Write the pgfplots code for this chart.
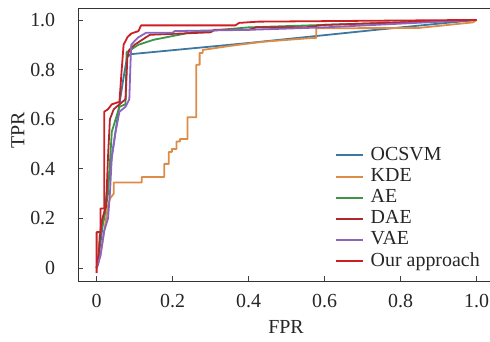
\documentclass[border=0pt]{standalone}
\usepackage{pgfplots}
\pgfplotsset{compat=1.18}
\usepackage{fontspec}
\setmainfont{Liberation Serif}
\definecolor{cOC}{RGB}{60,120,160}
\definecolor{cKDE}{RGB}{220,140,70}
\definecolor{cAE}{RGB}{60,150,70}
\definecolor{cDAE}{RGB}{175,40,45}
\definecolor{cVAE}{RGB}{140,100,190}
\definecolor{cOur}{RGB}{205,30,35}
\begin{document}
\fontsize{20}{22}\selectfont
\begin{tikzpicture}
\begin{axis}[
  scale only axis, width=412bp, height=273bp,
  xmin=-0.049, xmax=1.035, ymin=-0.052, ymax=1.048,
  axis line style={draw=none},
  tick align=inside, xtick pos=bottom, ytick pos=left,
  major tick length=5bp, tick style={black!75, line width=0.8pt},
  xtick={0,0.2,0.4,0.6,0.8,1.0}, xticklabels={0,0.2,0.4,0.6,0.8,1.0},
  ytick={0,0.2,0.4,0.6,0.8,1.0}, yticklabels={0,0.2,0.4,0.6,0.8,1.0},
  ticklabel style={font=\fontsize{20}{22}\selectfont, text=black!85},
  yticklabel style={xshift=-16bp},
  xticklabel style={yshift=-6bp},
  xlabel={FPR}, ylabel={TPR},
  label style={font=\fontsize{20}{22}\selectfont, text=black!85},
  xlabel style={at={(axis description cs:0.505,-0.168)}, anchor=center},
  ylabel style={at={(axis description cs:-0.146,0.553)}, anchor=center},
  legend style={draw=none, fill=none, inner sep=0pt, at={(axis cs:0.626,0.492)}, anchor=north west,
    font=\fontsize{20}{22}\selectfont, text=black!85,
    nodes={inner sep=0pt, text height=14bp, text depth=4.5bp}, row sep=2.7bp, column sep=7bp},
  legend cell align=left,
  legend image code/.code={\draw[#1, line width=2pt] (0bp,0bp) -- (27bp,0bp);},
  every axis plot/.append style={line width=1.8pt, line join=round},
]
\addplot[cOC] coordinates {(0,0) (0.01,0.1) (0.02,0.22) (0.03,0.34) (0.045,0.5) (0.06,0.66) (0.07,0.76) (0.08,0.85) (0.09,0.862) (0.4,0.907) (0.735,0.96) (1,1)};
\addlegendentry{OCSVM}
\addplot[cKDE] coordinates {(0,0) (0.01,0.05) (0.02,0.15) (0.03,0.25) (0.035,0.28) (0.04,0.29) (0.045,0.30) (0.045,0.345) (0.119,0.345) (0.119,0.367) (0.178,0.367) (0.178,0.42) (0.19,0.42) (0.19,0.468) (0.198,0.468) (0.198,0.48) (0.21,0.48) (0.21,0.51) (0.219,0.51) (0.219,0.52) (0.239,0.52) (0.239,0.608) (0.262,0.608) (0.262,0.819) (0.271,0.819) (0.271,0.867) (0.279,0.867) (0.279,0.879) (0.35,0.895) (0.437,0.912) (0.565,0.927) (0.578,0.927) (0.578,0.966) (0.85,0.968) (0.99,0.99) (1,1)};
\addlegendentry{KDE}
\addplot[cAE] coordinates {(0,0) (0.005,0.02) (0.008,0.13) (0.02,0.2) (0.03,0.3) (0.04,0.55) (0.06,0.65) (0.076,0.66) (0.079,0.87) (0.09,0.88) (0.11,0.9) (0.15,0.92) (0.25,0.95) (0.4,0.97) (0.6,0.98) (1,1)};
\addlegendentry{AE}
\addplot[cDAE] coordinates {(0,0) (0.005,0.05) (0.01,0.15) (0.015,0.2) (0.025,0.25) (0.03,0.45) (0.035,0.6) (0.045,0.64) (0.06,0.66) (0.076,0.68) (0.081,0.85) (0.086,0.88) (0.1,0.9) (0.12,0.92) (0.14,0.94) (0.3,0.95) (0.31,0.96) (0.4,0.96) (0.42,0.97) (0.55,0.97) (0.6,0.98) (1,1)};
\addlegendentry{DAE}
\addplot[cVAE] coordinates {(0,0) (0.01,0.05) (0.02,0.15) (0.03,0.2) (0.035,0.3) (0.04,0.45) (0.05,0.55) (0.06,0.63) (0.076,0.65) (0.086,0.68) (0.089,0.82) (0.091,0.9) (0.1,0.915) (0.11,0.93) (0.13,0.948) (0.2,0.948) (0.205,0.955) (0.4,0.96) (0.6,0.97) (1,1)};
\addlegendentry{VAE}
\addplot[cOur] coordinates {(0,-0.02) (0,0.145) (0.01,0.145) (0.01,0.24) (0.02,0.24) (0.02,0.63) (0.03,0.64) (0.04,0.66) (0.06,0.67) (0.066,0.8) (0.071,0.9) (0.081,0.93) (0.091,0.945) (0.11,0.955) (0.117,0.978) (0.365,0.978) (0.375,0.988) (0.425,0.993) (1,1)};
\addlegendentry{Our approach}
\draw[black!80, line width=0.9pt] (rel axis cs:1,1) -- (rel axis cs:0,1) -- (rel axis cs:0,0) -- (rel axis cs:1,0);
\end{axis}
\pgfresetboundingbox
\useasboundingbox (-78bp,-61bp) rectangle (412bp,281bp);
\end{tikzpicture}
\end{document}
